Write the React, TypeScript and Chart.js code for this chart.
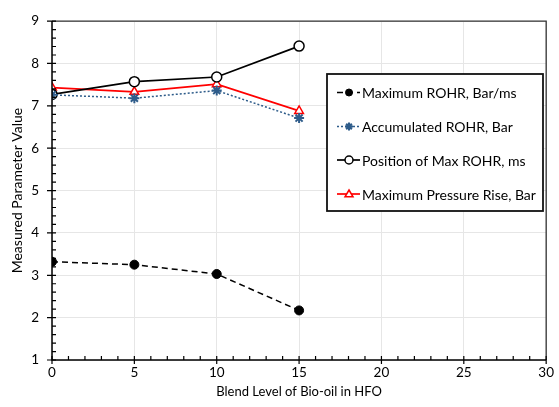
import React, { useEffect, useRef } from "react";
import { Chart, registerables } from "chart.js";

Chart.register(...registerables);

const blendLevels = [0, 5, 10, 15];
const maxRohr = [3.32, 3.25, 3.03, 2.17];
const accumRohr = [7.26, 7.18, 7.36, 6.71];
const posMaxRohr = [7.27, 7.57, 7.68, 8.41];
const maxPressureRise = [7.43, 7.33, 7.51, 6.88];

const seriesNames = [
  "Maximum ROHR, Bar/ms",
  "Accumulated ROHR, Bar",
  "Position of Max ROHR, ms",
  "Maximum Pressure Rise, Bar",
];

const xTitle = "Blend Level of Bio-oil in HFO";
const yTitle = "Measured Parameter Value";
const FONT = "Lato, 'Open Sans', sans-serif";

const toPts = (ys: number[]) => blendLevels.map((x, i) => ({ x, y: ys[i] }));

const frameAndTicks = {
  id: "frameAndTicks",
  afterDatasetsDraw(chart: any) {
    const { ctx, chartArea: a, scales } = chart;
    const xs = scales.x;
    const ys = scales.y;
    ctx.save();
    ctx.strokeStyle = "#333";
    ctx.lineWidth = 1.3;
    ctx.beginPath();
    ctx.moveTo(a.left, a.top);
    ctx.lineTo(a.right, a.top);
    ctx.lineTo(a.right, a.bottom);
    ctx.stroke();
    ctx.strokeStyle = "#000";
    ctx.lineWidth = 1.5;
    ctx.beginPath();
    ctx.moveTo(a.left, a.top);
    ctx.lineTo(a.left, a.bottom);
    ctx.lineTo(a.right, a.bottom);
    ctx.stroke();
    ctx.lineWidth = 1.2;
    ctx.beginPath();
    for (let v = 0; v <= 30; v += 1) {
      const px = xs.getPixelForValue(v);
      const major = v % 5 === 0;
      ctx.moveTo(px, a.bottom - 4);
      ctx.lineTo(px, a.bottom + (major ? 4 : 0));
    }
    for (let k = 0; k <= 40; k++) {
      const v = 1 + k * 0.2;
      const py = ys.getPixelForValue(v);
      const major = k % 5 === 0;
      ctx.moveTo(a.left + 4, py);
      ctx.lineTo(a.left - (major ? 5 : 0), py);
    }
    ctx.stroke();
    ctx.restore();
  },
};

function drawMarker(ctx: any, d: any, x: number, y: number) {
  const r = Math.max(3, d.pointRadius - 1);
  ctx.save();
  ctx.lineWidth = d.pointBorderWidth;
  ctx.strokeStyle = d.pointBorderColor;
  ctx.fillStyle = d.pointBackgroundColor;
  ctx.beginPath();
  if (d.pointStyle === "circle") {
    ctx.arc(x, y, r, 0, Math.PI * 2);
    ctx.fill();
    ctx.stroke();
  } else if (d.pointStyle === "triangle") {
    ctx.moveTo(x, y - r);
    ctx.lineTo(x + r, y + r * 0.7);
    ctx.lineTo(x - r, y + r * 0.7);
    ctx.closePath();
    ctx.fill();
    ctx.stroke();
  } else {
    for (let k = 0; k < 4; k++) {
      const ang = (k * Math.PI) / 4;
      ctx.moveTo(x + Math.cos(ang) * r, y + Math.sin(ang) * r);
      ctx.lineTo(x - Math.cos(ang) * r, y - Math.sin(ang) * r);
    }
    ctx.stroke();
  }
  ctx.restore();
}

const boxLegend = {
  id: "boxLegend",
  afterDraw(chart: any) {
    const { ctx } = chart;
    const L = 327, T = 74, R = 543, B = 211;
    ctx.save();
    ctx.fillStyle = "#fff";
    ctx.fillRect(L, T, R - L, B - T);
    ctx.strokeStyle = "#111";
    ctx.lineWidth = 1.8;
    ctx.strokeRect(L, T, R - L, B - T);
    const ds = chart.data.datasets;
    const rowY = [92.5, 126.5, 160, 194];
    ctx.font = `14px ${FONT}`;
    ctx.textBaseline = "middle";
    ds.forEach((d: any, i: number) => {
      const y = rowY[i];
      ctx.strokeStyle = d.borderColor;
      ctx.lineWidth = d.borderWidth;
      ctx.setLineDash(d.borderDash || []);
      ctx.beginPath();
      ctx.moveTo(337, y);
      ctx.lineTo(360, y);
      ctx.stroke();
      ctx.setLineDash([]);
      drawMarker(ctx, d, 349, y);
      ctx.fillStyle = "#000";
      ctx.fillText(d.label, 362, y + 1);
    });
    ctx.restore();
  },
};

export default function App() {
  const ref = useRef<HTMLCanvasElement | null>(null);
  useEffect(() => {
    document.body.style.margin = "0";
    const chart = new Chart(ref.current as HTMLCanvasElement, {
      type: "line",
      data: {
        datasets: [
          {
            label: seriesNames[0],
            data: toPts(maxRohr),
            borderColor: "#000",
            borderWidth: 1.5,
            borderDash: [6, 4],
            pointStyle: "circle",
            pointRadius: 4.5,
            pointBackgroundColor: "#000",
            pointBorderColor: "#000",
            pointBorderWidth: 1,
          },
          {
            label: seriesNames[1],
            data: toPts(accumRohr),
            borderColor: "#2E5C8A",
            borderWidth: 1.5,
            borderDash: [2, 2],
            pointStyle: "star",
            pointRadius: 5,
            pointBackgroundColor: "#2E5C8A",
            pointBorderColor: "#2E5C8A",
            pointBorderWidth: 2,
          },
          {
            label: seriesNames[2],
            data: toPts(posMaxRohr),
            borderColor: "#000",
            borderWidth: 1.7,
            pointStyle: "circle",
            pointRadius: 5,
            pointBackgroundColor: "#fff",
            pointBorderColor: "#000",
            pointBorderWidth: 1.5,
          },
          {
            label: seriesNames[3],
            data: toPts(maxPressureRise),
            borderColor: "#FF0000",
            borderWidth: 1.7,
            pointStyle: "triangle",
            pointRadius: 5,
            pointBackgroundColor: "#fff",
            pointBorderColor: "#FF0000",
            pointBorderWidth: 1.5,
          },
        ],
      },
      options: {
        animation: false,
        responsive: false,
        layout: { padding: { left: 0, top: 19, right: 10, bottom: 0 } },
        plugins: { legend: { display: false }, tooltip: { enabled: false } },
        scales: {
          x: {
            type: "linear",
            min: 0,
            max: 30,
            ticks: {
              stepSize: 5,
              color: "#000",
              padding: 5,
              font: { family: FONT, size: 13.5 },
            },
            grid: { color: "#E6E6E6", drawTicks: false },
            border: { display: false },
            title: {
              display: true,
              text: xTitle,
              color: "#000",
              font: { family: FONT, size: 13 },
              padding: { top: 2, bottom: 7 },
            },
            afterFit: (s: any) => {
              s.height = 47;
            },
          },
          y: {
            min: 1,
            max: 9,
            ticks: {
              stepSize: 1,
              color: "#000",
              padding: 13,
              font: { family: FONT, size: 13.5 },
            },
            grid: { color: "#E6E6E6", drawTicks: false },
            border: { display: false },
            title: {
              display: true,
              text: yTitle,
              color: "#000",
              font: { family: FONT, size: 14 },
              padding: { top: 9, bottom: 2 },
            },
            afterFit: (s: any) => {
              s.width = 52;
            },
          },
        },
      },
      plugins: [frameAndTicks, boxLegend],
    } as any);
    return () => chart.destroy();
  }, []);
  return (
    <div style={{ width: 559, height: 407 }}>
      <canvas ref={ref} width={559} height={407} style={{ display: "block" }} />
    </div>
  );
}
